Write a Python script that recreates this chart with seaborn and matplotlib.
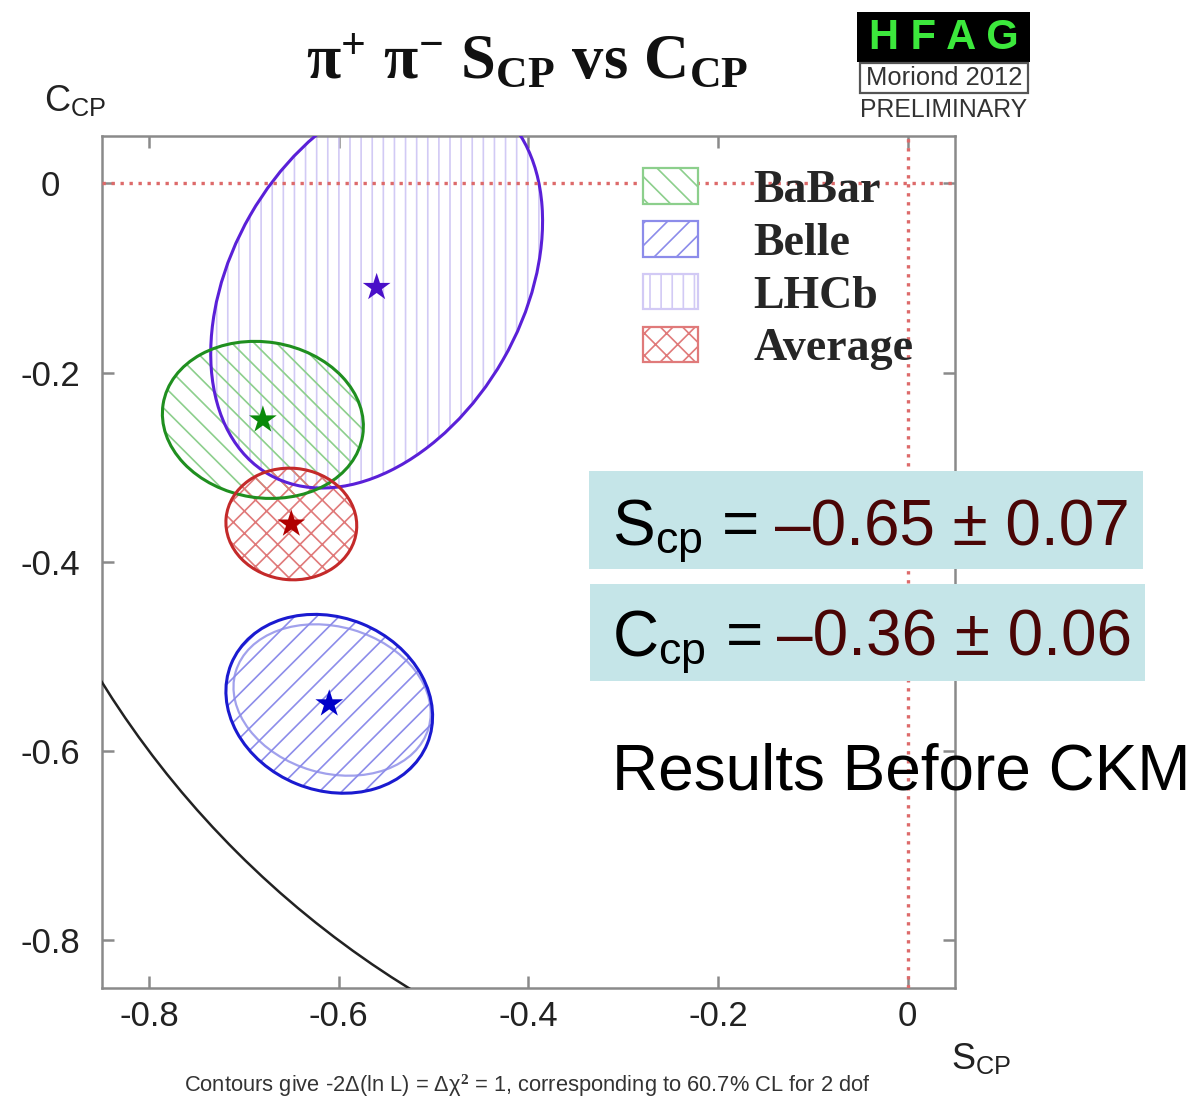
import numpy as np
import pandas as pd
import matplotlib
matplotlib.use("Agg")
import matplotlib.pyplot as plt
import seaborn as sns
from matplotlib.patches import Ellipse, Circle, Rectangle, Patch

# ---------------- data ----------------
experiments = ["BaBar", "Belle", "LHCb", "Average"]
s_cp = [-0.68, -0.61, -0.56, -0.65]
c_cp = [-0.25, -0.55, -0.11, -0.36]
sigma_s = [0.106, 0.109, 0.175, 0.069]
sigma_c = [0.083, 0.0945, 0.212, 0.059]
rho = [-0.08, -0.14, 0.33, -0.03]

# secondary (inner) Belle contour
belle_inner_s, belle_inner_c = -0.607, -0.546
belle_inner_sig_s, belle_inner_sig_c, belle_inner_rho = 0.104, 0.080, -0.17

# physical boundary S^2 + C^2 = 1
boundary_radius = 1.0

xticks = [-0.8, -0.6, -0.4, -0.2, 0.0]
xticklabels = ["-0.8", "-0.6", "-0.4", "-0.2", "0"]
yticks = [0.0, -0.2, -0.4, -0.6, -0.8]
yticklabels = ["0", "-0.2", "-0.4", "-0.6", "-0.8"]

s_text = ["\u20130.65 \u00b1 0.07"]
c_text = ["\u20130.36 \u00b1 0.06"]

# ---------------- style ----------------
hatches = {"BaBar": "\\\\\\", "Belle": "///", "LHCb": "|||", "Average": "xxx"}
hatch_col = {"BaBar": "#8ccf8c", "Belle": "#8c8cea", "LHCb": "#d2caf5", "Average": "#e07a7a"}
edge_col = {"BaBar": "#1f8f1f", "Belle": "#1a1ad0", "LHCb": "#5a20d8", "Average": "#c42a2a"}
star_col = {"BaBar": "#0a8a0a", "Belle": "#0000c8", "LHCb": "#4a10c8", "Average": "#b00000"}

sns.set_style("ticks")
plt.rcParams["font.family"] = ["Liberation Sans", "DejaVu Sans"]
plt.rcParams["axes.unicode_minus"] = False
plt.rcParams["hatch.linewidth"] = 0.6
plt.rcParams["mathtext.fontset"] = "custom"
plt.rcParams["mathtext.rm"] = "Liberation Serif:bold"
plt.rcParams["mathtext.it"] = "Liberation Serif:italic:bold"
plt.rcParams["mathtext.bf"] = "Liberation Serif:bold"
plt.rcParams["mathtext.sf"] = "Liberation Sans"

W, H = 1195, 1100
DPI = 200
fig = plt.figure(figsize=(W / DPI, H / DPI), dpi=DPI)

def fx(px):
    return px / W

def fy(py):
    return 1 - py / H

ax = fig.add_axes([fx(101.7), fy(987.7), fx(955) - fx(101.7), fy(136) - fy(987.7)])
ax.set_xlim(-0.85, 0.05)
ax.set_ylim(-0.85, 0.05)

def ellipse_params(sx, sy, r):
    cov = np.array([[sx * sx, r * sx * sy], [r * sx * sy, sy * sy]])
    vals, vecs = np.linalg.eigh(cov)
    order = vals.argsort()[::-1]
    vals, vecs = vals[order], vecs[:, order]
    angle = np.degrees(np.arctan2(vecs[1, 0], vecs[0, 0]))
    return 2 * np.sqrt(vals[0]), 2 * np.sqrt(vals[1]), angle

df = pd.DataFrame({"experiment": experiments, "S": s_cp, "C": c_cp,
                   "sS": sigma_s, "sC": sigma_c, "rho": rho})

draw_order = ["LHCb", "BaBar", "Belle", "Average"]
# hatched fills
for name in draw_order:
    row = df[df.experiment == name].iloc[0]
    w, h, ang = ellipse_params(row.sS, row.sC, row.rho)
    ax.add_patch(Ellipse((row.S, row.C), w, h, angle=ang, facecolor="none",
                         edgecolor=hatch_col[name], hatch=hatches[name], lw=0, zorder=2))
# inner Belle contour
w, h, ang = ellipse_params(belle_inner_sig_s, belle_inner_sig_c, belle_inner_rho)
ax.add_patch(Ellipse((belle_inner_s, belle_inner_c), w, h, angle=ang, facecolor="none",
                     edgecolor="#8a8ae8", lw=0.8, alpha=0.8, zorder=3))
# outlines
for name in draw_order:
    row = df[df.experiment == name].iloc[0]
    w, h, ang = ellipse_params(row.sS, row.sC, row.rho)
    ax.add_patch(Ellipse((row.S, row.C), w, h, angle=ang, facecolor="none",
                         edgecolor=edge_col[name], lw=1.1, zorder=4))

# physical boundary
ax.add_patch(Circle((0, 0), boundary_radius, facecolor="none", edgecolor="#222222",
                    lw=0.9, zorder=3))

# dotted zero lines
ax.axhline(0, color="#dd6a6a", lw=1.2, ls=(0, (1, 1.7)), zorder=5)
ax.axvline(0, color="#dd6a6a", lw=1.2, ls=(0, (1, 1.7)), zorder=5)

# stars
sns.scatterplot(data=df, x="S", y="C", hue="experiment", palette=star_col,
                marker="*", s=110, linewidth=0, legend=False, ax=ax, zorder=6)

ax.set_xlabel("")
ax.set_ylabel("")
ax.set_xticks(xticks)
ax.set_xticklabels(xticklabels)
ax.set_yticks(yticks)
ax.set_yticklabels(yticklabels)
ax.tick_params(axis="both", direction="in", length=4.3, width=0.9, color="#8a8a8a",
               top=True, right=True, labelsize=12.5, labelcolor="#222222")
ax.tick_params(axis="x", pad=4.5)
ax.tick_params(axis="y", pad=18.6)
for lab in ax.get_yticklabels():
    lab.set_ha("center")
for sp in ax.spines.values():
    sp.set_color("#8a8a8a")
    sp.set_linewidth(0.9)

# legend
handles = [Patch(facecolor="white", edgecolor=hatch_col[n], hatch=hatches[n], lw=0.8)
           for n in experiments]
fig.legend(handles, experiments, loc="upper left", bbox_to_anchor=(fx(643), fy(168)),
           frameon=False, borderpad=0, borderaxespad=0, handlelength=1.2,
           handleheight=0.82, handletextpad=1.2, labelspacing=0.2,
           prop={"family": "Liberation Serif", "weight": "bold", "size": 16.5})

# axis labels
fig.text(fx(44), fy(102), r"$\mathsf{C}_{\mathsf{CP}}$", fontsize=13, color="#222222",
         ha="left", va="center")
fig.text(fx(951), fy(1060), r"$\mathsf{S}_{\mathsf{CP}}$", fontsize=13, color="#222222",
         ha="left", va="center")

# title
fig.text(fx(527), fy(78), r"$\mathrm{\pi^{+}\ \pi^{-}\ S_{CP}\ vs\ C_{CP}}$",
         fontsize=22.5, ha="center", va="baseline", color="#111111")

# HFAG logo
fig.add_artist(Rectangle((fx(857), fy(62)), fx(1030) - fx(857), fy(12) - fy(62),
                         transform=fig.transFigure, facecolor="black", edgecolor="none"))
fig.text(fx(944), fy(38), "H F A G", fontsize=15, fontweight="bold", color="#3ce83c",
         ha="center", va="center")
fig.add_artist(Rectangle((fx(860), fy(93)), fx(1028) - fx(860), fy(63) - fy(93),
                         transform=fig.transFigure, facecolor="white", edgecolor="#555555",
                         lw=0.8))
fig.text(fx(944), fy(78), "Moriond 2012", fontsize=9.2, color="#333333",
         ha="center", va="center")
fig.text(fx(944), fy(110), "PRELIMINARY", fontsize=8.9, color="#333333",
         ha="center", va="center")

# result boxes
box_col = "#c5e5e8"
fig.add_artist(Rectangle((fx(589), fy(569)), fx(1143) - fx(589), fy(471) - fy(569),
                         transform=fig.transFigure, facecolor=box_col, edgecolor="none"))
fig.add_artist(Rectangle((fx(590), fy(681)), fx(1145) - fx(590), fy(584) - fy(681),
                         transform=fig.transFigure, facecolor=box_col, edgecolor="none"))
fig.text(fx(612), fy(545), r"$\mathsf{S}_{\mathsf{cp}}$ =", fontsize=23, color="black",
         ha="left", va="baseline")
fig.text(fx(1130), fy(545), s_text[0], fontsize=23, color="#4a0505",
         ha="right", va="baseline")
fig.text(fx(612), fy(656), r"$\mathsf{C}_{\mathsf{cp}}$ =", fontsize=23, color="black",
         ha="left", va="baseline")
fig.text(fx(1132), fy(656), c_text[0], fontsize=23, color="#4a0505",
         ha="right", va="baseline")
fig.text(fx(612), fy(789), "Results Before CKM", fontsize=23, color="black",
         ha="left", va="baseline")

# caption
fig.text(fx(527), fy(1086),
         "Contours give -2\u0394(ln L) = \u0394\u03c7$^2$ = 1, corresponding to 60.7% CL for 2 dof",
         fontsize=7.9, color="#333333", ha="center", va="center")

fig.savefig("out.png", dpi=DPI)
